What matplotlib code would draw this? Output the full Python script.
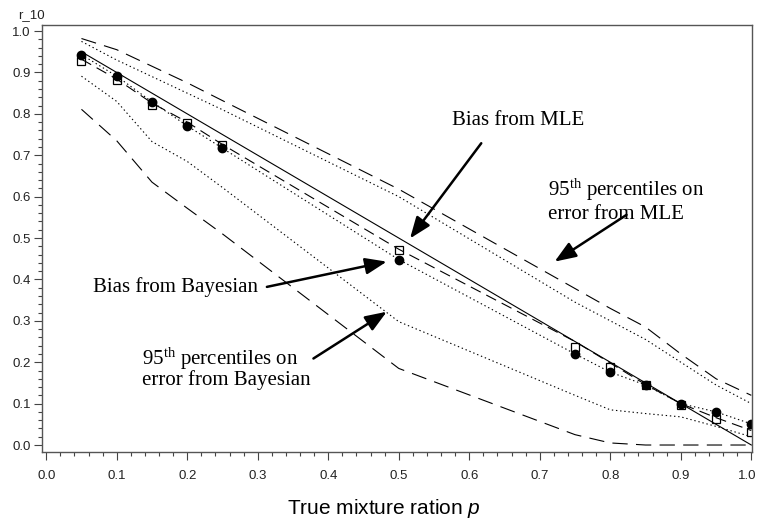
import numpy as np
import matplotlib
matplotlib.use("Agg")
import matplotlib.pyplot as plt
import matplotlib.transforms as mtransforms

plt.rcParams['mathtext.fontset'] = 'custom'
plt.rcParams['mathtext.rm'] = 'Liberation Serif'
plt.rcParams['mathtext.it'] = 'Liberation Sans:italic'
plt.rcParams['lines.scale_dashes'] = False

# true mixture ratio p
p = [0.05, 0.10, 0.15, 0.20, 0.25, 0.50, 0.75, 0.80, 0.85, 0.90, 0.95, 1.00]

# bias points
bias_bayes = [0.943, 0.891, 0.829, 0.771, 0.717, 0.448, 0.220, 0.176, 0.145, 0.100, 0.080, 0.051]
bias_mle = [0.928, 0.881, 0.822, 0.778, 0.724, 0.471, 0.237, 0.189, 0.144, 0.097, 0.063, 0.032]

# mean curves
true_line = [0.95, 0.90, 0.85, 0.80, 0.75, 0.50, 0.25, 0.20, 0.15, 0.10, 0.05, 0.00]
mean_mle = [0.932, 0.884, 0.826, 0.780, 0.726, 0.473, 0.250, 0.198, 0.146, 0.100, 0.066, 0.035]
mean_bayes = [0.943, 0.891, 0.829, 0.771, 0.717, 0.448, 0.220, 0.176, 0.145, 0.100, 0.080, 0.051]

# 95th percentile curves
mle_upper = [0.982, 0.955, 0.915, 0.875, 0.832, 0.618, 0.378, 0.330, 0.285, 0.220, 0.160, 0.120]
mle_lower = [0.811, 0.735, 0.635, 0.572, 0.510, 0.185, 0.025, 0.005, 0.000, 0.000, 0.000, 0.000]
bayes_upper = [0.975, 0.930, 0.890, 0.850, 0.810, 0.600, 0.345, 0.300, 0.255, 0.200, 0.145, 0.100]
bayes_lower = [0.891, 0.830, 0.733, 0.685, 0.622, 0.298, 0.120, 0.085, 0.076, 0.068, 0.045, 0.020]

fig = plt.figure(figsize=(7.59, 5.22), dpi=100)
ax = fig.add_axes([0.0553, 0.134, 0.9355, 0.818])

lw = 0.8
ax.plot(p, true_line, color='black', lw=lw, ls='-')
ax.plot(p, mean_mle, color='black', lw=lw, dashes=(8, 4.5))
ax.plot(p, mean_bayes, color='black', lw=lw, dashes=(1, 2))
ax.plot(p, mle_upper, color='black', lw=lw, dashes=(11, 6))
ax.plot(p, mle_lower, color='black', lw=lw, dashes=(11, 6))
ax.plot(p, bayes_upper, color='black', lw=lw, dashes=(1, 2))
ax.plot(p, bayes_lower, color='black', lw=lw, dashes=(1, 2))

ax.plot(p, bias_mle, ls='none', marker='s', ms=6, mfc='none', mec='black', mew=0.9)
ax.plot(p, bias_bayes, ls='none', marker='o', ms=6, mfc='black', mec='black')

ax.set_xlim(-0.006, 1.001)
ax.set_ylim(-0.017, 1.0145)
ticks = np.arange(0, 1.01, 0.1)
ax.set_xticks(ticks)
ax.set_yticks(ticks)
ax.set_xticks(np.arange(0, 1.001, 0.02), minor=True)
ax.set_yticks(np.arange(0, 1.001, 0.02), minor=True)
ax.set_xticklabels(['%.1f' % v for v in ticks], family='Liberation Sans')
ax.set_yticklabels(['%.1f' % v for v in ticks], family='Liberation Sans')
ax.tick_params(which='major', direction='out', length=6, width=0.8, color='#444444',
               labelsize=9.5, labelcolor='#222222')
ax.tick_params(which='minor', direction='out', length=3, width=0.8, color='#444444')
ax.tick_params(axis='x', pad=7)
ax.tick_params(axis='y', pad=2)
for s in ax.spines.values():
    s.set_color('#555555')
    s.set_linewidth(1.0)

# keep the last x label inside the picture
last = ax.get_xticklabels()[-1]
last.set_transform(last.get_transform() +
                   mtransforms.ScaledTranslation(-4 / 100, 0, fig.dpi_scale_trans))

fig.text(18 / 759, 1 - 15 / 522, 'r_10', fontsize=9.5, family='Liberation Sans',
         color='#222222', ha='left', va='center')
fig.text(384 / 759, 1 - 508 / 522, 'True mixture ration $\\it{p}$', fontsize=15,
         family='Liberation Sans', ha='center', va='center')

serif = dict(family='Liberation Serif', fontsize=15, ha='left', va='center')
ax.text(0.576, 0.785, 'Bias from MLE', **serif)
ax.text(0.711, 0.616, '95$^{\\rm th}$ percentiles on', **serif)
ax.text(0.711, 0.556, 'error from MLE', **serif)
ax.text(0.067, 0.382, 'Bias from Bayesian', **serif)
ax.text(0.136, 0.210, '95$^{\\rm th}$ percentiles on', **serif)
ax.text(0.136, 0.157, 'error from Bayesian', **serif)

arrow = dict(arrowstyle='-|>,head_length=1.3,head_width=0.5', color='black', lw=1.8,
             shrinkA=0, shrinkB=0)
ax.annotate('', xy=(0.516, 0.499), xytext=(0.617, 0.729), arrowprops=arrow)
ax.annotate('', xy=(0.721, 0.443), xytext=(0.823, 0.556), arrowprops=arrow)
ax.annotate('', xy=(0.483, 0.443), xytext=(0.313, 0.382), arrowprops=arrow)
ax.annotate('', xy=(0.483, 0.322), xytext=(0.379, 0.209), arrowprops=arrow)

fig.savefig('out.png', dpi=100)
